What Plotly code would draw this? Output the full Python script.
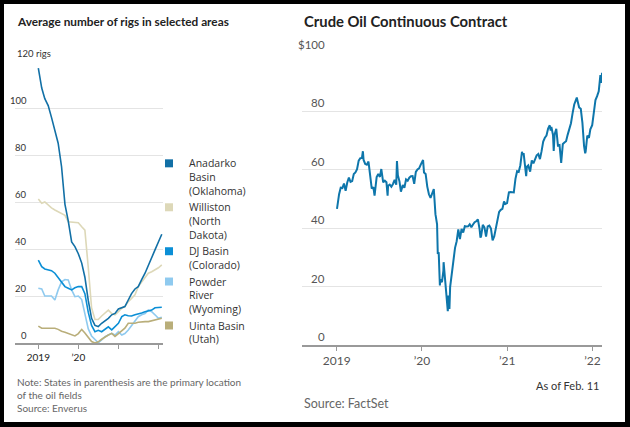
import pandas as pd
import plotly.graph_objects as go

FONT = "Lato"
LEGEND_FONT = "Open Sans"
W, H = 630, 427

# --- rig counts (monthly) ---
rig_months = pd.date_range("2019-01-01", periods=38, freq="MS")

anadarko = [117, 108.5, 104, 101, 96, 90, 85, 75, 59, 52, 43, 41,
            38, 34, 28, 18, 10.5, 7.5, 7, 8.4, 9.5, 10.5, 12, 12.6,
            14.5, 15.2, 15.5, 18.3, 21, 23, 24, 27, 29.7, 33, 36, 39.6,
            43, 46.3]
williston = [61.3, 59.5, 60, 58.7, 57.5, 56.6, 55.8, 55.2, 54.3, 51.6, 51.4, 51.3,
             51.2, 49.5, 48, 32, 15, 10, 10, 11.5, 12.6, 14, 12.5, 12,
             13.3, 14.8, 15.5, 17.6, 19, 20.5, 24, 26, 27.5, 29.7, 30.3, 31,
             32, 33.2]
dj_basin = [35.3, 32.5, 31.5, 31, 30.8, 29.7, 28, 26, 24, 23.3, 22.6, 23.5,
            24, 24, 21, 13, 7.5, 4.8, 5.4, 4.8, 6, 6.9, 5.6, 7,
            8.4, 11.2, 12, 11.6, 11.5, 12, 12.3, 12.8, 13.3, 13.8, 14, 15,
            15.2, 15.2]
powder_river = [23.3, 23, 20, 20, 20, 18.3, 22.6, 26, 27, 26.8, 22.6, 19.7,
                20, 18.5, 13, 6, 3, 1.3, 0.1, 1.3, 2.7, 3.4, 4.1, 3.4,
                4.8, 3.4, 4, 5.5, 7.5, 9.5, 11.2, 12, 12.5, 14, 13.3, 12,
                10.5, 11]
uinta = [7.2, 6.3, 6.3, 6.3, 6.3, 6.3, 5.8, 5, 4.6, 4, 3.6, 3,
         4, 5.8, 4.3, 2.2, 0.6, 0, 0.5, 1.6, 2.7, 3.4, 4.1, 2.8,
         4, 5.3, 6.3, 8.4, 8.4, 8.4, 8.8, 9.1, 9.1, 9.1, 9.4, 9.8,
         10, 10.5]

basin_names = ["Anadarko<br>Basin<br>(Oklahoma)", "Williston<br>(North<br>Dakota)",
               "DJ Basin<br>(Colorado)", "Powder<br>River<br>(Wyoming)",
               "Uinta Basin<br>(Utah)"]
basin_colors = ["#1270a6", "#ddd8b8", "#0b8fd6", "#8fcaef", "#b9ae7a"]

rig_ticks = [0, 20, 40, 60, 80, 100, 120]
rig_tick_text = ["0", "20", "40", "60", "80", "100", "120 rigs"]
rig_years = ["2019-01-01", "2020-01-01", "2021-01-01", "2022-01-01"]
rig_year_text = ["2019", "\u201920", "", ""]

# --- crude oil continuous contract ---
oil_dates = [
    "2019-01-02", "2019-01-04", "2019-01-11", "2019-01-18", "2019-01-25", "2019-02-01",
    "2019-02-08", "2019-02-15", "2019-02-22", "2019-03-01", "2019-03-08", "2019-03-15",
    "2019-03-22", "2019-03-29", "2019-04-05", "2019-04-12", "2019-04-19", "2019-04-23",
    "2019-04-26", "2019-05-03", "2019-05-10", "2019-05-17", "2019-05-24", "2019-05-31",
    "2019-06-07", "2019-06-12", "2019-06-14", "2019-06-21", "2019-06-28", "2019-07-05",
    "2019-07-11", "2019-07-19", "2019-07-26", "2019-08-02", "2019-08-07", "2019-08-09",
    "2019-08-16", "2019-08-23", "2019-08-30", "2019-09-06", "2019-09-13", "2019-09-16",
    "2019-09-20", "2019-09-27", "2019-10-03", "2019-10-04", "2019-10-11", "2019-10-18",
    "2019-10-25", "2019-11-01", "2019-11-08", "2019-11-15", "2019-11-22", "2019-11-29",
    "2019-12-06", "2019-12-13", "2019-12-20", "2019-12-27",
    "2020-01-03", "2020-01-06", "2020-01-10", "2020-01-17", "2020-01-24", "2020-01-31",
    "2020-02-07", "2020-02-14", "2020-02-21", "2020-02-28", "2020-03-06", "2020-03-09",
    "2020-03-13", "2020-03-18", "2020-03-20", "2020-03-27", "2020-04-02", "2020-04-03",
    "2020-04-09", "2020-04-17", "2020-04-21", "2020-04-24", "2020-04-28", "2020-05-01",
    "2020-05-08", "2020-05-15", "2020-05-22", "2020-05-29", "2020-06-05", "2020-06-12",
    "2020-06-19", "2020-06-26", "2020-07-03", "2020-07-10", "2020-07-17", "2020-07-24",
    "2020-07-31", "2020-08-07", "2020-08-14", "2020-08-21", "2020-08-28", "2020-09-04",
    "2020-09-08", "2020-09-11", "2020-09-18", "2020-09-25", "2020-10-02", "2020-10-09",
    "2020-10-16", "2020-10-23", "2020-10-30", "2020-11-06", "2020-11-13", "2020-11-20",
    "2020-11-27", "2020-12-04", "2020-12-11", "2020-12-18", "2020-12-24", "2020-12-31",
    "2021-01-08", "2021-01-15", "2021-01-22", "2021-01-29", "2021-02-05", "2021-02-12",
    "2021-02-19", "2021-02-26", "2021-03-05", "2021-03-08", "2021-03-12", "2021-03-18",
    "2021-03-23", "2021-03-26", "2021-04-01", "2021-04-09", "2021-04-16", "2021-04-23",
    "2021-04-30", "2021-05-07", "2021-05-14", "2021-05-21", "2021-05-28", "2021-06-04",
    "2021-06-11", "2021-06-18", "2021-06-25", "2021-07-02", "2021-07-06", "2021-07-09",
    "2021-07-16", "2021-07-19", "2021-07-23", "2021-07-30", "2021-08-06", "2021-08-13",
    "2021-08-20", "2021-08-27", "2021-09-03", "2021-09-10", "2021-09-17", "2021-09-24",
    "2021-10-01", "2021-10-08", "2021-10-15", "2021-10-22", "2021-10-26", "2021-10-29",
    "2021-11-05", "2021-11-12", "2021-11-19", "2021-11-26", "2021-12-01", "2021-12-03",
    "2021-12-10", "2021-12-17", "2021-12-23", "2021-12-31",
    "2022-01-07", "2022-01-14", "2022-01-21", "2022-01-28", "2022-02-04", "2022-02-09",
    "2022-02-11",
]
oil_prices = [
    46.54, 47.96, 51.59, 53.80, 53.69, 55.26,
    52.72, 55.59, 57.26, 55.80, 56.07, 58.52,
    59.04, 60.14, 63.08, 63.89, 64.00, 66.30,
    63.30, 61.94, 61.66, 62.76, 58.63, 53.50,
    54.00, 51.14, 52.51, 57.43, 58.47, 57.51,
    60.20, 55.63, 56.20, 55.66, 51.09, 54.50,
    54.87, 54.17, 55.10, 56.52, 54.85, 62.90,
    58.09, 55.91, 52.45, 52.81, 54.70, 53.78,
    56.66, 56.20, 57.24, 57.72, 57.77, 55.17,
    59.20, 60.07, 60.44, 61.72,
    63.05, 63.27, 59.04, 58.54, 54.19, 51.56,
    50.32, 52.05, 53.38, 44.76, 41.28, 31.13,
    31.73, 20.37, 22.43, 21.51, 25.32, 28.34,
    22.76, 18.27, 11.57, 16.94, 12.34, 19.78,
    24.74, 29.43, 33.25, 35.49, 39.55, 36.26,
    39.75, 38.49, 40.65, 40.55, 40.59, 41.29,
    40.27, 41.22, 42.01, 42.34, 42.97, 39.77,
    36.76, 37.33, 41.11, 40.25, 37.05, 40.60,
    40.88, 39.85, 35.79, 37.14, 40.13, 42.15,
    45.53, 46.26, 46.57, 49.10, 48.23, 48.52,
    52.24, 52.36, 52.27, 52.20, 56.85, 59.47,
    59.24, 61.50, 66.09, 65.05, 65.61, 60.00,
    57.76, 60.97, 61.45, 59.32, 63.13, 62.14,
    63.58, 64.90, 65.37, 63.58, 66.32, 69.62,
    70.91, 71.64, 74.05, 75.16, 73.37, 74.56,
    71.81, 66.42, 72.07, 73.95, 68.28, 68.44,
    62.32, 68.74, 69.29, 69.72, 71.97, 73.98,
    75.88, 79.35, 82.28, 83.76, 84.65, 83.57,
    81.27, 80.79, 76.10, 68.15, 65.57, 66.26,
    71.67, 70.86, 73.79, 75.21,
    78.90, 83.82, 85.14, 86.82, 92.31, 89.66,
    93.10,
]

oil_ticks = [0, 20, 40, 60, 80, 100]
oil_tick_text = ["0", "20", "40", "60", "80", "$100"]
oil_years = ["2019-01-01", "2020-01-01", "2021-01-01", "2022-01-01"]
oil_year_text = ["2019", "\u201920", "\u201921", "\u201922"]


def px(x):
    return x / W


def py(y):
    return 1 - y / H


fig = go.Figure()

rig_series = [anadarko, williston, dj_basin, powder_river, uinta]
# draw beige/light lines first so the dark ones sit on top
for i in [1, 3, 4, 2, 0]:
    fig.add_trace(go.Scatter(x=rig_months, y=rig_series[i], mode="lines",
                             line=dict(color=basin_colors[i], width=1.6),
                             showlegend=False, hoverinfo="skip",
                             xaxis="x", yaxis="y"))
for name, color in zip(basin_names, basin_colors):
    fig.add_trace(go.Scatter(x=[None], y=[None], mode="markers", name=name,
                             marker=dict(symbol="square", size=8, color=color),
                             xaxis="x", yaxis="y"))

fig.add_trace(go.Scatter(x=oil_dates, y=oil_prices, mode="lines",
                         line=dict(color="#0e76ab", width=2),
                         showlegend=False, xaxis="x2", yaxis="y2"))

annotations = []
for v, t in zip(rig_ticks, rig_tick_text):
    left = t.endswith("rigs")
    annotations.append(dict(xref="paper", yref="y", x=px(15) if left else px(29), y=v,
                            text=t, showarrow=False, xanchor="left" if left else "right",
                            yanchor="bottom", yshift=0,
                            font=dict(family=FONT, size=9.5, color="#333")))
for v, t in zip(oil_ticks, oil_tick_text):
    annotations.append(dict(xref="paper", yref="y2", x=px(327), y=v, text=t,
                            showarrow=False, xanchor="right", yanchor="bottom",
                            font=dict(family=FONT, size=11.5, color="#555")))

annotations += [
    dict(xref="paper", yref="paper", x=px(15), y=py(21), text="<b>Average number of rigs in selected areas</b>",
         showarrow=False, xanchor="left", yanchor="middle",
         font=dict(family=FONT, size=11.8, color="#222")),
    dict(xref="paper", yref="paper", x=px(302), y=py(21), text="<b>Crude Oil Continuous Contract</b>",
         showarrow=False, xanchor="left", yanchor="middle",
         font=dict(family=FONT, size=14.8, color="#222")),
    dict(xref="paper", yref="paper", x=px(15), y=py(374),
         text="Note: States in parenthesis are the primary location<br>of the oil fields<br>Source: Enverus",
         showarrow=False, xanchor="left", yanchor="top", align="left",
         font=dict(family=FONT, size=10, color="#666")),
    dict(xref="paper", yref="paper", x=px(602), y=py(385), text="As of Feb. 11",
         showarrow=False, xanchor="right", yanchor="middle",
         font=dict(family=FONT, size=11, color="#333")),
    dict(xref="paper", yref="paper", x=px(302), y=py(403), text="Source: FactSet",
         showarrow=False, xanchor="left", yanchor="middle",
         font=dict(family=FONT, size=12.5, color="#666")),
]

axis_common = dict(showgrid=False, zeroline=False, showline=True, linecolor="#999",
                   linewidth=1.5, ticks="outside", ticklen=4, tickcolor="#999",
                   tickwidth=1)
yaxis_common = dict(showgrid=True, gridcolor="#e4e4e4", gridwidth=1.3, zeroline=False,
                    showticklabels=False, ticks="", fixedrange=True)

fig.update_layout(
    width=W, height=H,
    margin=dict(l=0, r=0, t=0, b=0),
    paper_bgcolor="black",
    plot_bgcolor="rgba(0,0,0,0)",
    font=dict(family=FONT, color="#333"),
    shapes=[dict(type="rect", xref="paper", yref="paper", x0=px(4), x1=px(625),
                 y0=py(422), y1=py(4), fillcolor="white", line_width=0, layer="below")],
    xaxis=dict(domain=[px(15), px(163)], type="date",
               range=["2018-06-02", "2022-02-12"],
               tickvals=rig_years, ticktext=rig_year_text,
               tickfont=dict(family=FONT, size=10, color="#222"), **axis_common),
    yaxis=dict(domain=[py(343), py(61)], range=[0, 120], tickvals=rig_ticks,
               **yaxis_common),
    xaxis2=dict(domain=[px(302), px(602)], type="date", anchor="y2",
                range=["2018-08-05", "2022-02-11"],
                tickvals=oil_years, ticktext=oil_year_text,
                tickfont=dict(family=FONT, size=12, color="#555"), **axis_common),
    yaxis2=dict(domain=[py(345), py(52.7)], range=[0, 100], anchor="x2",
                tickvals=oil_ticks, **yaxis_common),
    legend=dict(x=px(149), y=py(150), xanchor="left", yanchor="top",
                valign="top", bgcolor="rgba(0,0,0,0)",
                font=dict(family=LEGEND_FONT, size=10.5, color="#333"),
                tracegroupgap=0),
    annotations=annotations,
    showlegend=True,
)

# the page body has a default 8px margin; drop it so the figure sits at the window origin
fig.write_html("out.html", config={"displayModeBar": False},
               post_script="document.body.style.margin='0';document.body.style.background='black';")
